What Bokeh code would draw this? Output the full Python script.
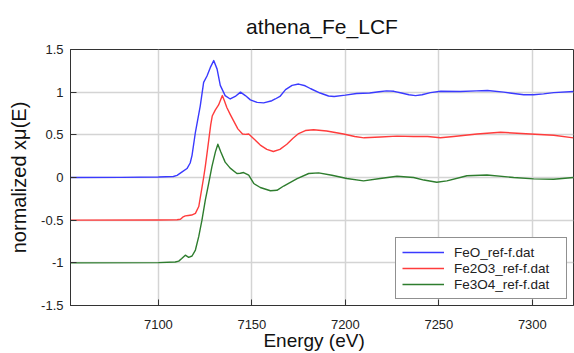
from bokeh.plotting import figure
from bokeh.models import FixedTicker, NumeralTickFormatter, Legend, LegendItem, Range1d
from bokeh.embed import file_html
from bokeh.resources import INLINE

# ---- data ----
feo_e = [7053, 7080, 7100, 7108, 7110, 7112.7, 7115.3, 7117, 7118, 7119.8, 7122.4, 7124.2, 7126,
         7127.8, 7129.6, 7131.4, 7133.1, 7135.7, 7138.4, 7141.1, 7143.9, 7146.5, 7149.2, 7152.8,
         7156.3, 7160.7, 7162.5, 7165, 7168, 7171.5, 7175, 7178.5, 7181.5, 7186.5, 7191, 7194,
         7200, 7206, 7213, 7218, 7222, 7226, 7230, 7234, 7237.5, 7241, 7245.5, 7251, 7261.5,
         7270, 7276, 7284.7, 7290, 7295.4, 7300.7, 7306, 7311.4, 7322]
feo_v = [0.0, 0.002, 0.005, 0.012, 0.025, 0.065, 0.105, 0.17, 0.26, 0.53, 0.84, 1.115, 1.19,
         1.29, 1.37, 1.27, 1.08, 0.96, 0.92, 0.95, 1.0, 0.96, 0.91, 0.88,
         0.875, 0.9, 0.92, 0.95, 1.03, 1.08, 1.095, 1.075, 1.04, 0.99, 0.955, 0.95,
         0.965, 0.985, 0.99, 1.005, 1.015, 1.01, 0.99, 0.97, 0.96, 0.97, 0.995, 1.01, 1.007,
         1.015, 1.02, 1.0, 0.985, 0.97, 0.97, 0.98, 0.995, 1.007]

fe2o3_e = [7053, 7100, 7110, 7111.8, 7113, 7114.4, 7116, 7117.8, 7119.8, 7121.6, 7123.3, 7124.2,
           7125.1, 7126, 7127, 7128, 7128.8, 7130.4, 7132.2, 7133.3, 7134.2, 7135.3, 7136.6,
           7138.4, 7140.3, 7142.5, 7145, 7146.5, 7148.3, 7151, 7154.5, 7158, 7161.5, 7165,
           7168.7, 7172, 7175, 7178.6, 7183, 7190, 7199, 7205, 7210, 7218.7, 7227.6, 7236.5,
           7244, 7250.8, 7257.9, 7270.4, 7283, 7299, 7311.4, 7322]
fe2o3_v = [-0.5, -0.498, -0.495, -0.49, -0.465, -0.45, -0.445, -0.44, -0.42, -0.34, -0.12, 0.0,
           0.13, 0.28, 0.45, 0.62, 0.72, 0.79, 0.85, 0.91, 0.96, 0.9, 0.82,
           0.74, 0.66, 0.57, 0.51, 0.505, 0.51, 0.455, 0.38, 0.33, 0.305, 0.33,
           0.39, 0.46, 0.515, 0.55, 0.56, 0.545, 0.51, 0.48, 0.465, 0.475, 0.485, 0.48,
           0.48, 0.465, 0.48, 0.51, 0.53, 0.51, 0.495, 0.465]

fe3o4_e = [7053, 7100, 7109, 7110.9, 7112.5, 7114.4, 7116.2, 7118, 7119.8, 7121.6, 7123.3,
           7125.1, 7126.9, 7128.6, 7130.5, 7131.8, 7133.4, 7135.7, 7138.4, 7142, 7143.8,
           7145.6, 7148.3, 7151, 7154.5, 7159.9, 7163.4, 7167, 7174.2, 7180.4, 7185.7,
           7192.8, 7200.8, 7209.7, 7218.6, 7227.6, 7236.5, 7242, 7248.9, 7254.3, 7265,
           7275.7, 7290, 7300.7, 7311.4, 7322]
fe3o4_v = [-1.0, -0.997, -0.99, -0.98, -0.95, -0.91, -0.935, -0.92, -0.85, -0.69, -0.5,
           -0.265, -0.07, 0.125, 0.3, 0.39, 0.3, 0.18, 0.11, 0.047, 0.05,
           0.058, 0.027, -0.07, -0.117, -0.155, -0.15, -0.1, -0.012, 0.047, 0.054,
           0.027, -0.012, -0.04, -0.012, 0.015, 0.0, -0.03, -0.055, -0.04, 0.02,
           0.03, 0.0, -0.016, -0.02, 0.0]

series_names = ["FeO_ref-f.dat", "Fe2O3_ref-f.dat", "Fe3O4_ref-f.dat"]
x_ticks = [7100, 7150, 7200, 7250, 7300]
y_ticks = [-1.5, -1.0, -0.5, 0.0, 0.5, 1.0, 1.5]

FONT = "Liberation Sans"

p = figure(width=574, height=353, output_backend="svg", toolbar_location=None,
           x_range=Range1d(7053, 7322), y_range=Range1d(-1.5, 1.5),
           min_border_left=70, min_border_right=1, min_border_top=49, min_border_bottom=47,
           background_fill_color="white", border_fill_color="white")

p.title.text = "athena_Fe_LCF"
p.title.text_font = FONT
p.title.text_font_size = "21px"
p.title.text_font_style = "normal"
p.title.align = "center"
p.title.text_color = "#111111"
p.title.standoff = 24

p.outline_line_color = "#333333"
p.outline_line_width = 1

xa = p.xaxis[0]
ya = p.yaxis[0]
xa.ticker = FixedTicker(ticks=x_ticks)
ya.ticker = FixedTicker(ticks=y_ticks)
ya.formatter = NumeralTickFormatter(format="0.[0]")
for ax in (xa, ya):
    ax.major_tick_in = 6
    ax.major_tick_out = 0
    ax.minor_tick_line_color = None
    ax.major_tick_line_color = "#333333"
    ax.axis_line_color = "#333333"
    ax.major_label_text_font = FONT
    ax.major_label_text_color = "#222222"
    ax.major_label_text_font_size = "13px"
    ax.axis_label_text_font = FONT
    ax.axis_label_text_font_style = "normal"
    ax.axis_label_text_color = "#111111"
xa.major_label_standoff = 14
ya.major_label_standoff = 7
xa.axis_label = "Energy    (eV)"
ya.axis_label = "normalized xμ(E)"
xa.axis_label_text_font_size = "19px"
ya.axis_label_text_font_size = "20px"
xa.axis_label_standoff = -2
ya.axis_label_standoff = 8

p.xgrid.ticker = FixedTicker(ticks=x_ticks)
p.ygrid.ticker = FixedTicker(ticks=y_ticks)
for g in (p.xgrid[0], p.ygrid[0]):
    g.grid_line_color = "#d4d4d4"
    g.grid_line_width = 1.5

r1 = p.line(feo_e, feo_v, line_color="#3a3aff", line_width=1.4, line_join="round")
r2 = p.line(fe2o3_e, fe2o3_v, line_color="#ff3c3c", line_width=1.4, line_join="round")
r3 = p.line(fe3o4_e, fe3o4_v, line_color="#2e7d2e", line_width=1.4, line_join="round")

legend = Legend(items=[LegendItem(label=series_names[0], renderers=[r1]),
                       LegendItem(label=series_names[1], renderers=[r2]),
                       LegendItem(label=series_names[2], renderers=[r3])],
                location="bottom_right", margin=6, padding=6, spacing=0,
                glyph_width=42, glyph_height=16, label_height=16, label_standoff=10,
                label_width=106,
                label_text_font=FONT, label_text_font_size="13.5px", label_text_color="#222222",
                border_line_color="#222222", border_line_width=1,
                background_fill_color="white", background_fill_alpha=1.0)
p.add_layout(legend, "center")

open("out.html", "w").write(file_html(p, INLINE))
